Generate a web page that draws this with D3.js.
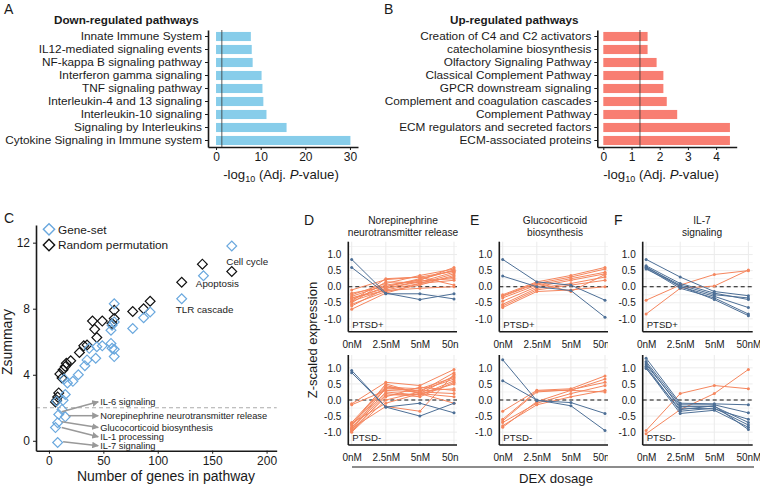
<!DOCTYPE html>
<html><head><meta charset="utf-8">
<script src="https://cdn.jsdelivr.net/npm/d3@7"></script>
<style>
body{margin:0;background:#fff;}
svg{font-family:"Liberation Sans",Arial,Helvetica,sans-serif;}
</style></head><body>
<svg id="c" width="760" height="488"></svg>
<script>
// ---------------- DATA ----------------
const downPathways = ["Innate Immune System","IL12-mediated signaling events","NF-kappa B signaling pathway","Interferon gamma signaling","TNF signaling pathway","Interleukin-4 and 13 signaling","Interleukin-10 signaling","Signaling by Interleukins","Cytokine Signaling in Immune system"];
const downValues = [7.8,8.0,8.2,10.2,10.4,10.6,11.3,15.8,30.1];
const downTicks = [0,10,20,30];

const upPathways = ["Creation of C4 and C2 activators","catecholamine biosynthesis","Olfactory Signaling Pathway","Classical Complement Pathway","GPCR downstream signaling","Complement and coagulation cascades","Complement Pathway","ECM regulators and secreted factors","ECM-associated proteins"];
const upValues = [1.57,1.57,1.89,2.13,2.13,2.25,2.62,4.49,4.49];
const upTicks = [0,1,2,3,4];
const sigThreshold = 1.3;

const geneSetX = [168,142,122,60,93,87,77,58,57,60,57,58,60,60,49,44,37,43,35,33,27,22,17,14,15,13,7,12,9,15,8,6,8];
const geneSetY = [11.8,10.0,8.6,8.3,7.8,7.45,6.8,7.0,6.7,7.2,5.9,5.6,5.55,5.1,5.75,5.7,5.6,5.0,4.9,4.55,4.0,3.6,3.5,3.75,2.8,2.45,2.4,1.9,1.6,1.45,1.1,0.8,-0.1];
const randX = [141,168,122,93,87,77,60,60,58,49,40,42,44,35,32,28,20,16,15,13,10,12,9,8,7,6];
const randY = [10.7,10.25,9.6,8.45,8.0,7.83,7.9,7.4,7.1,7.25,7.25,6.75,6.25,5.8,5.75,5.35,4.85,4.7,4.5,4.3,4.05,3.8,2.9,2.65,2.45,2.35];
const cXTicks = [0,50,100,150,200];
const cYTicks = [0,4,8,12];
const pointLabels = ["Cell cycle","Apoptosis","TLR cascade"];
const pointLabelX = [163,135,116.5];
const pointLabelY = [10.85,9.54,7.98];
const arrowLabels = ["IL-6 signaling","Norepinephrine neurotransmitter release","Glucocorticoid biosynthesis","IL-1 processing","IL-7 signaling"];
const arrowFromX = [11.7,17.7,11.7,11.7,13];
const arrowFromY = [1.76,1.52,1.15,0.81,-0.06];
const arrowToX = [45.3,45.3,45.3,45.3,45.3];
const arrowToY = [2.36,1.52,0.81,0.24,-0.3];

const doses = ["0nM","2.5nM","5nM","50nM"];
const zTicks = [-1.0,-0.5,0.0,0.5,1.0];

const norepPlusUp = [[-0.10,0.22,0.30,0.05],[-0.25,0.10,0.35,0.55],[-0.30,0.05,0.20,0.60],[-0.35,-0.05,0.15,0.45],[-0.40,0.00,0.25,0.50],[-0.45,-0.10,0.10,0.40],[-0.50,0.15,0.12,0.30],[-0.55,-0.15,0.05,0.35],[-0.60,-0.05,0.18,0.25],[-0.70,-0.20,0.10,0.20],[-0.45,0.25,0.30,0.48],[-0.35,-0.12,-0.05,0.00],[-0.20,0.00,0.22,0.52]];
const norepPlusDown = [[0.85,-0.20,-0.40,-0.22],[0.60,-0.22,-0.22,-0.38]];
const norepMinusUp = [[-0.12,0.55,0.45,0.95],[-0.15,0.30,0.25,0.85],[-0.70,0.45,0.20,0.75],[-0.75,0.40,0.35,0.70],[-0.80,0.35,0.30,0.65],[-0.85,0.25,0.15,0.60],[-0.90,0.20,0.10,0.55],[-0.95,0.10,0.40,0.30],[-1.00,0.00,0.25,0.20],[-0.72,-0.10,0.20,0.10],[-0.88,-0.20,-0.35,0.80],[-0.78,0.50,0.20,-0.10],[-0.98,0.15,0.18,0.50],[-0.92,0.38,0.28,0.35]];
const norepMinusDown = [[0.92,-0.22,-0.10,-0.40],[0.85,-0.22,-0.50,-0.10]];

const glucoPlusUp = [[-0.25,0.15,0.35,0.60],[-0.30,0.10,0.30,0.55],[-0.35,0.05,0.25,0.45],[-0.45,0.00,0.20,0.40],[-0.55,-0.05,0.10,0.30],[-0.60,-0.10,0.05,0.20],[-0.65,-0.15,-0.10,0.00],[-0.28,0.12,-0.15,0.38]];
const glucoPlusDown = [[0.85,0.15,0.05,-0.42],[0.33,0.00,-0.12,-0.95]];
const glucoMinusUp = [[-0.35,0.30,0.35,0.75],[-0.60,0.28,0.30,0.65],[-0.65,0.25,0.32,0.55],[-0.70,-0.10,0.20,0.45],[-0.80,-0.15,0.10,0.30],[-0.85,-0.05,0.30,0.25]];
const glucoMinusDown = [[1.25,-0.02,-0.08,-0.42],[0.60,0.00,-0.18,-0.95]];

const il7PlusUp = [[-0.42,0.05,0.38,0.50],[-0.85,-0.05,0.02,0.52]];
const il7PlusDown = [[0.85,0.30,-0.15,-0.28],[0.65,0.10,-0.20,-0.40],[0.62,0.00,-0.30,-0.65],[0.58,-0.05,-0.35,-0.85],[0.55,0.02,-0.40,-0.90],[0.60,0.05,-0.25,-0.35]];
const il7MinusUp = [[-0.95,0.20,0.45,0.35],[-1.05,-0.30,0.20,0.95]];
const il7MinusDown = [[1.30,-0.10,-0.12,-0.15],[1.20,-0.15,-0.15,-0.40],[1.10,-0.20,-0.20,-0.70],[1.05,-0.35,-0.25,-0.78],[1.00,-0.42,-0.32,-0.85],[0.98,-0.30,-0.18,-0.92],[1.15,-0.25,-0.28,-0.60]];

// ---------------- DRAW ----------------
const svg = d3.select("#c");
const INK = "#1a1a1a";
const ORANGE = "#f5865e", BLUE = "#4d6f96", SKY = "#87cdea", SALMON = "#f87e72", GS = "#6aa8de";
const defs = svg.append("defs");

function label(x,y,t){ svg.append("text").attr("x",x).attr("y",y).attr("font-size",14).attr("fill",INK).text(t); }
label(4,14,"A"); label(384,14,"B"); label(4,223,"C"); label(304,225,"D"); label(470,225,"E"); label(614,225,"F");

function styleAxis(g, sw){
  g.select(".domain").attr("stroke",INK).attr("stroke-width",sw);
  g.selectAll(".tick line").attr("stroke",INK).attr("stroke-width",1);
  g.selectAll(".tick text").attr("fill",INK).attr("font-family","inherit");
}

function barPanel(cats, vals, ticks, domain, xr, color, title, titleX, axTitleX){
  const y = d3.scaleBand().domain(cats).range([30,147]).paddingInner(0.3).paddingOuter(0.15);
  const x = d3.scaleLinear().domain(domain).range(xr);
  svg.append("text").attr("x",titleX).attr("y",24).attr("font-size",11.7).attr("font-weight","bold").attr("fill",INK).text(title);
  svg.append("g").selectAll("rect").data(cats).join("rect")
    .attr("x",x(0)).attr("y",d=>y(d)).attr("height",y.bandwidth())
    .attr("width",(d,i)=>x(vals[i])-x(0)).attr("fill",color);
  svg.append("line").attr("x1",x(sigThreshold)).attr("x2",x(sigThreshold)).attr("y1",30).attr("y2",147)
    .attr("stroke","#333").attr("stroke-width",0.8);
  const ga = svg.append("g").attr("transform",`translate(${xr[0]},0)`)
    .call(d3.axisLeft(y).tickSize(3).tickSizeOuter(0).tickPadding(3));
  styleAxis(ga,1.6); ga.selectAll(".tick text").attr("font-size",11.8);
  const gx = svg.append("g").attr("transform","translate(0,147)")
    .call(d3.axisBottom(x).tickValues(ticks).tickFormat(d3.format("d")).tickSize(3).tickSizeOuter(0).tickPadding(2));
  styleAxis(gx,1.6); gx.selectAll(".tick text").attr("font-size",12);
  const t = svg.append("text").attr("x",axTitleX).attr("y",179).attr("text-anchor","middle").attr("font-size",13.2).attr("fill",INK);
  t.append("tspan").text("-log");
  t.append("tspan").attr("font-size",9).attr("dy",3).text("10");
  t.append("tspan").attr("dy",-3).text(" (Adj. ");
  t.append("tspan").attr("font-style","italic").text("P");
  t.append("tspan").text("-value)");
}
barPanel(downPathways, downValues, downTicks, [-1.8,31.8], [208,358], SKY, "Down-regulated pathways", 54, 281);
barPanel(upPathways, upValues, upTicks, [-0.213,4.73], [597.3,736.7], SALMON, "Up-regulated pathways", 450, 661);

// ---------- Panel C ----------
const cx = d3.scaleLinear().domain([-11.9,209.3]).range([36,276.7]);
const cy = d3.scaleLinear().domain([-0.6,13.07]).range([450.7,225]);
svg.append("line").attr("x1",36).attr("x2",276.7).attr("y1",cy(2)).attr("y2",cy(2))
  .attr("stroke","#aaa").attr("stroke-width",1.2).attr("stroke-dasharray","4,3");
const diamond = d3.symbol().type(d3.symbolSquare).size(48);
svg.append("g").selectAll("path").data(randX).join("path")
  .attr("d",diamond).attr("transform",(d,i)=>`translate(${cx(d)},${cy(randY[i])}) rotate(45)`)
  .attr("fill","none").attr("stroke","#111").attr("stroke-width",1.2);
svg.append("g").selectAll("path").data(geneSetX).join("path")
  .attr("d",diamond).attr("transform",(d,i)=>`translate(${cx(d)},${cy(geneSetY[i])}) rotate(45)`)
  .attr("fill","none").attr("stroke",GS).attr("stroke-width",1.2);
const gcx = svg.append("g").attr("transform","translate(0,450.7)")
  .call(d3.axisBottom(cx).tickValues(cXTicks).tickSize(3).tickSizeOuter(0).tickPadding(3));
styleAxis(gcx,1.6); gcx.selectAll(".tick text").attr("font-size",12);
const gcy = svg.append("g").attr("transform","translate(36,0)")
  .call(d3.axisLeft(cy).tickValues(cYTicks).tickSize(3).tickSizeOuter(0).tickPadding(3));
styleAxis(gcy,1.6); gcy.selectAll(".tick text").attr("font-size",12);
svg.append("text").attr("transform",`translate(12,342) rotate(-90)`).attr("text-anchor","middle")
  .attr("font-size",14).attr("fill",INK).text("Zsummary");
svg.append("text").attr("x",166).attr("y",481).attr("text-anchor","middle").attr("font-size",14).attr("fill",INK).text("Number of genes in pathway");
// legend
[["Gene-set",GS,229.3],["Random permutation","#111",245]].forEach(([t,c,yy])=>{
  svg.append("path").attr("d",d3.symbol().type(d3.symbolSquare).size(64)).attr("transform",`translate(49,${yy}) rotate(45)`)
    .attr("fill","none").attr("stroke",c).attr("stroke-width",1.4);
  svg.append("text").attr("x",58).attr("y",yy+4.2).attr("font-size",11.8).attr("fill",INK).text(t);
});
pointLabels.forEach((t,i)=>svg.append("text").attr("x",cx(pointLabelX[i])).attr("y",cy(pointLabelY[i])+3.5)
  .attr("font-size",9.8).attr("fill","#222").text(t));
defs.append("marker").attr("id","ah").attr("viewBox","0 0 10 10").attr("refX",9).attr("refY",5)
  .attr("markerWidth",4.5).attr("markerHeight",4.5).attr("orient","auto")
  .append("path").attr("d","M0,0 L10,5 L0,10 z").attr("fill","#999");
arrowLabels.forEach((t,i)=>{
  svg.append("line").attr("x1",cx(arrowFromX[i])).attr("y1",cy(arrowFromY[i])).attr("x2",cx(arrowToX[i])).attr("y2",cy(arrowToY[i]))
    .attr("stroke","#999").attr("stroke-width",1.5).attr("marker-end","url(#ah)");
  svg.append("text").attr("x",cx(arrowToX[i])+2).attr("y",cy(arrowToY[i])+3.2).attr("font-size",9.3).attr("fill","#222").text(t);
});

// ---------- Panels D/E/F ----------
function linePanel(id, left, right, top, series, clipRight){
  const [up, down, tag] = series;
  const bottom = top + 90;
  const x = d3.scalePoint().domain(doses).range([left+3.4, left+105.7]);
  const y = d3.scaleLinear().domain([-1.4,1.4]).range([bottom, top]);
  defs.append("clipPath").attr("id",id).append("rect").attr("x",0).attr("y",0).attr("width",clipRight).attr("height",488);
  const g = svg.append("g").attr("clip-path",`url(#${id})`);
  const minor = d3.range(-1.25,1.3,0.25);
  g.append("g").selectAll("line").data(minor).join("line").attr("x1",left).attr("x2",right)
    .attr("y1",d=>y(d)).attr("y2",d=>y(d)).attr("stroke","#ececec").attr("stroke-width",d=>Math.abs(d*2-Math.round(d*2))<1e-6?1:0.6);
  g.append("g").selectAll("line").data(doses).join("line").attr("x1",d=>x(d)).attr("x2",d=>x(d))
    .attr("y1",top).attr("y2",bottom).attr("stroke","#ebebeb").attr("stroke-width",1);
  g.append("line").attr("x1",left).attr("x2",right).attr("y1",y(0)).attr("y2",y(0))
    .attr("stroke","#111").attr("stroke-width",1.1).attr("stroke-dasharray","4,3");
  const line = d3.line().x((d,i)=>x(doses[i])).y(d=>y(d));
  [[up,ORANGE],[down,BLUE]].forEach(([arr,col])=>{
    g.append("g").selectAll("path").data(arr).join("path").attr("d",line).attr("fill","none").attr("stroke",col).attr("stroke-width",1);
    arr.forEach(s=>g.append("g").selectAll("circle").data(s).join("circle")
      .attr("cx",(d,i)=>x(doses[i])).attr("cy",d=>y(d)).attr("r",1.5).attr("fill",col));
  });
  const gy = g.append("g").attr("transform",`translate(${left},0)`)
    .call(d3.axisLeft(y).tickValues(zTicks).tickSize(0).tickPadding(7));
  styleAxis(gy,1.6); gy.selectAll(".tick text").attr("font-size",10).text(d=>d3.format(".1f")(d).replace("\u2212","-"));
  gy.select(".domain").attr("d",`M0,${top}V${bottom}`);
  const gx = g.append("g").attr("transform",`translate(0,${bottom})`)
    .call(d3.axisBottom(x).tickSize(0).tickPadding(9));
  styleAxis(gx,1.6); gx.selectAll(".tick text").attr("font-size",10);
  gx.select(".domain").attr("d",`M${left},0H${right}`);
  g.append("text").attr("x",left+4).attr("y",bottom-4).attr("font-size",9.6).attr("fill",INK).text(tag);
}
const colsX = [[348.3,457,459],[499.3,608,608],[642.7,752.7,760]];
const colData = [
  [[norepPlusUp,norepPlusDown,"PTSD+"],[norepMinusUp,norepMinusDown,"PTSD-"]],
  [[glucoPlusUp,glucoPlusDown,"PTSD+"],[glucoMinusUp,glucoMinusDown,"PTSD-"]],
  [[il7PlusUp,il7PlusDown,"PTSD+"],[il7MinusUp,il7MinusDown,"PTSD-"]]
];
colData.forEach((cd,ci)=>{
  linePanel("cp"+ci+"a", colsX[ci][0], colsX[ci][1], 241.7, cd[0], colsX[ci][2]);
  linePanel("cp"+ci+"b", colsX[ci][0], colsX[ci][1], 355, cd[1], colsX[ci][2]);
});
const titles = [["Norepinephrine","neurotransmitter release"],["Glucocorticoid","biosynthesis"],["IL-7","signaling"]];
const titleX = [403,555,702];
titles.forEach((tl,i)=>tl.forEach((t,j)=>svg.append("text").attr("x",titleX[i]).attr("y",224+j*12)
  .attr("text-anchor","middle").attr("font-size",10.2).attr("fill",INK).text(t)));
svg.append("text").attr("transform","translate(317,340) rotate(-90)").attr("text-anchor","middle")
  .attr("font-size",13).attr("fill",INK).text("Z-scaled expression");
svg.append("line").attr("x1",352).attr("x2",754).attr("y1",467).attr("y2",467).attr("stroke",INK).attr("stroke-width",1.2);
svg.append("text").attr("x",556).attr("y",483).attr("text-anchor","middle").attr("font-size",13.2).attr("fill",INK).text("DEX dosage");
</script></body></html>
